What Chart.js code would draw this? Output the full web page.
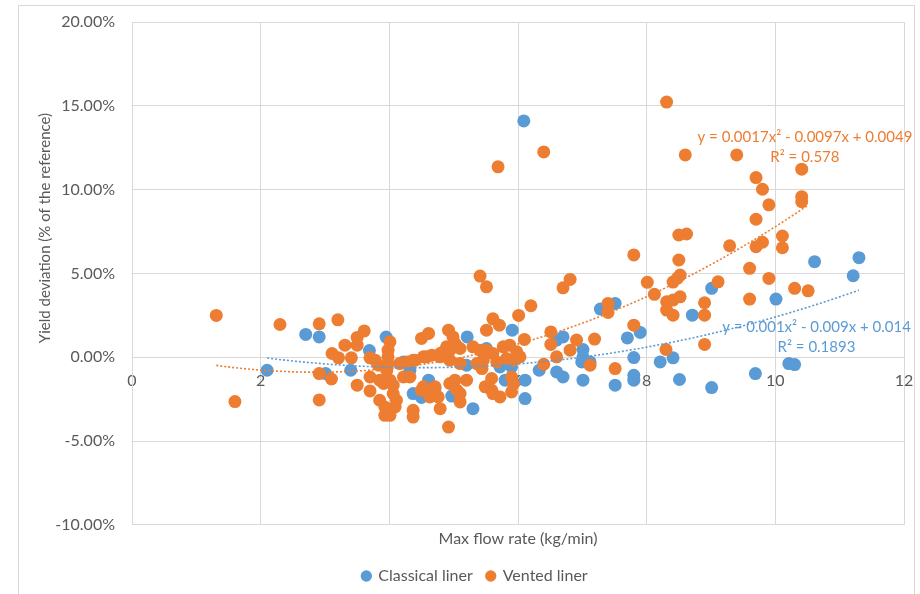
<!DOCTYPE html>
<html><head><meta charset="utf-8">
<script src="https://cdn.jsdelivr.net/npm/chart.js@4.4.1/dist/chart.umd.min.js"></script>
<style>
html,body{margin:0;padding:0;background:#fff;}
#wrap{position:relative;width:920px;height:594px;overflow:hidden;}
#frame{position:absolute;left:18px;top:5px;width:897px;height:620px;border:1px solid #d9d9d9;box-sizing:border-box;}
canvas{position:absolute;left:0;top:0;}
</style></head><body>
<div id="wrap"><div id="frame"></div><canvas id="c" width="920" height="594"></canvas></div>
<script>
// ---- data (y in % of the reference) ----
const seriesNames = ['Classical liner', 'Vented liner'];
const classicalX = [2.10,2.70,2.91,3.01,3.40,3.69,3.95,4.22,4.32,4.61,4.71,4.37,4.50,4.97,5.21,5.91,5.51,5.20,5.72,5.90,6.33,5.80,6.11,6.11,5.30,6.09,6.70,6.60,7.01,7.01,6.99,7.12,6.60,6.70,7.01,7.28,7.51,7.70,7.90,7.80,7.51,7.80,7.80,8.21,8.41,8.51,8.71,9.01,9.01,9.69,10.01,10.21,10.30,10.61,11.21,11.30];
const classicalY = [-0.78,1.36,1.21,-0.98,-0.78,0.40,1.20,-0.28,-0.78,-1.37,-1.87,-2.17,-2.40,-2.32,1.21,1.61,0.52,-0.48,-0.58,-0.58,-0.78,-1.37,-1.37,-2.47,-3.07,14.10,1.21,1.02,0.46,0.02,-0.28,-0.28,-0.88,-1.18,-1.37,2.87,3.21,1.15,1.48,-0.02,-1.67,-1.08,-1.37,-0.28,-0.04,-1.33,2.51,4.11,-1.81,-0.98,3.47,-0.38,-0.44,5.70,4.86,5.94];
const ventedX = [1.31,1.60,2.30,2.91,3.20,2.91,3.10,2.91,3.11,3.21,3.31,3.41,3.50,3.50,3.50,3.61,3.70,3.70,3.78,3.83,3.70,3.85,3.91,4.01,4.06,4.06,4.11,4.09,4.01,3.93,3.85,3.93,4.01,3.98,3.98,3.98,3.96,4.16,4.27,4.40,4.53,4.50,4.61,4.66,4.79,4.84,4.92,4.99,5.05,4.94,4.22,4.32,4.50,4.63,4.79,4.76,4.94,5.05,4.37,4.37,4.92,4.53,4.61,4.71,4.37,4.58,4.79,4.89,5.41,5.51,6.20,6.01,5.61,5.71,5.51,6.10,5.02,5.10,5.30,5.41,5.51,5.61,5.77,5.87,5.98,6.03,5.93,5.82,5.46,5.67,5.36,5.44,5.10,4.94,6.40,5.02,5.20,5.59,5.90,5.49,5.59,5.72,5.61,5.90,5.10,5.10,5.93,5.69,6.40,6.51,6.51,6.91,6.81,7.19,6.60,7.12,6.81,6.70,7.40,7.40,7.51,7.80,7.80,8.01,8.12,8.30,8.31,8.50,8.62,8.50,8.52,8.41,8.48,8.31,8.41,8.52,8.31,8.41,8.60,8.90,8.90,8.90,9.11,9.40,9.29,9.60,9.60,9.70,9.80,9.90,9.70,9.80,9.70,10.11,10.11,9.90,10.30,10.51,10.41,10.41,10.41];
const ventedY = [2.49,-2.65,1.95,1.99,2.23,-0.98,-1.30,-2.55,0.22,-0.04,0.72,-0.04,-1.67,0.72,1.18,1.57,-0.04,-2.01,-0.18,-0.48,-1.18,-1.37,-1.57,-1.37,-1.67,-2.17,-2.57,-2.97,-3.47,-3.47,-2.57,-2.97,0.92,0.42,0.02,-0.38,-0.78,-0.38,-0.28,-0.18,0.02,1.12,1.42,0.12,0.02,0.32,1.61,1.21,0.62,-0.18,-1.18,-1.18,-1.97,-2.37,-3.07,-2.37,-1.57,-1.97,-3.17,-3.57,-4.17,-1.77,-2.17,-1.77,-0.18,0.02,0.22,0.62,4.84,4.20,3.07,2.49,2.29,1.91,1.61,1.06,0.82,0.52,0.62,0.42,0.42,0.22,0.62,0.72,0.32,0.02,-0.18,-0.08,-0.18,-0.28,-0.38,-0.68,-0.38,0.42,-0.42,-1.37,-1.37,-1.27,-1.18,-1.77,-1.97,-2.37,-2.17,-2.07,-2.17,-2.67,-1.60,11.36,12.25,1.51,0.76,1.02,0.42,1.08,0.02,-0.48,4.64,4.14,3.21,2.67,-0.68,6.10,1.91,4.47,3.75,0.46,15.22,7.29,7.35,5.80,4.90,4.48,4.72,3.31,3.41,3.60,2.81,2.51,12.07,3.25,2.51,0.76,4.50,12.07,6.65,5.30,3.47,10.72,10.02,9.09,8.23,6.86,6.59,7.23,6.53,4.70,4.11,3.96,11.22,9.58,9.28];
// polynomial trendlines (as displayed on the chart): a*x^2 + b*x + c (fraction)
const classicalTrend = [0.001, -0.009, 0.014];
const ventedTrend = [0.0017, -0.0097, 0.0049];
const classicalTrendText = ['y = 0.001x\u00B2 - 0.009x + 0.014', 'R\u00B2 = 0.1893'];
const ventedTrendText = ['y = 0.0017x\u00B2 - 0.0097x + 0.0049', 'R\u00B2 = 0.578'];
const xTicks = [0, 2, 4, 6, 8, 10, 12];
const yTicks = [-10, -5, 0, 5, 10, 15, 20];
const xTitle = 'Max flow rate (kg/min)';
const yTitle = 'Yield deviation (% of the reference)';

// ---- build ----
const BLUE = '#5B9BD5', ORANGE = '#ED7D31', TXT = '#595959', GRID = '#D9D9D9', NONE = 'rgba(0,0,0,0)';
const toPts = (xs, ys) => xs.map((x, i) => ({x, y: ys[i]}));
function trendPts(coef, xs) {
  const lo = Math.min(...xs), hi = Math.max(...xs), n = 80, out = [];
  for (let i = 0; i <= n; i++) {
    const x = lo + (hi - lo) * i / n;
    out.push({x, y: (coef[0] * x * x + coef[1] * x + coef[2]) * 100});
  }
  return out;
}
Chart.defaults.font.family = 'Lato';
Chart.defaults.font.size = 16;
Chart.defaults.color = TXT;

const textPlugin = {
  id: 'extraText',
  afterLayout(chart) {
    if (chart.legend) { chart.legend.left += 28; }
  },
  afterDraw(chart) {
    const ctx = chart.ctx, xs = chart.scales.x, ys = chart.scales.y;
    ctx.save();
    ctx.textAlign = 'center';
    ctx.textBaseline = 'middle';
    ctx.fillStyle = TXT;
    ctx.font = '15px Lato';
    ctx.save();
    ctx.translate(45, 228);
    ctx.rotate(-Math.PI / 2);
    ctx.fillText(yTitle, 0, 0);
    ctx.restore();
    ctx.fillStyle = ORANGE;
    ctx.fillText(ventedTrendText[0], xs.getPixelForValue(10.46), ys.getPixelForValue(13.15));
    ctx.fillText(ventedTrendText[1], xs.getPixelForValue(10.46), ys.getPixelForValue(11.95));
    ctx.fillStyle = BLUE;
    ctx.fillText(classicalTrendText[0], xs.getPixelForValue(10.64), ys.getPixelForValue(1.79));
    ctx.fillText(classicalTrendText[1], xs.getPixelForValue(10.64), ys.getPixelForValue(0.60));
    ctx.restore();
  }
};

new Chart(document.getElementById('c'), {
  type: 'scatter',
  data: {
    datasets: [
      {label: seriesNames[0], data: toPts(classicalX, classicalY), backgroundColor: BLUE, borderColor: BLUE, borderWidth: 0, pointRadius: 6.5, order: 3},
      {label: seriesNames[1], data: toPts(ventedX, ventedY), backgroundColor: ORANGE, borderColor: ORANGE, borderWidth: 0, pointRadius: 6.5, order: 2},
      {label: 'trend1', data: trendPts(ventedTrend, ventedX), showLine: true, pointRadius: 0, borderColor: ORANGE, borderWidth: 1.6, borderDash: [2, 2], fill: false, order: 1},
      {label: 'trend0', data: trendPts(classicalTrend, classicalX), showLine: true, pointRadius: 0, borderColor: BLUE, borderWidth: 1.6, borderDash: [2, 2], fill: false, order: 0}
    ]
  },
  options: {
    responsive: false,
    animation: false,
    layout: {padding: {left: 18, right: 16, top: 22, bottom: 0}},
    scales: {
      x: {
        type: 'linear', position: {y: 0}, min: 0, max: 12,
        afterBuildTicks: s => { s.ticks = xTicks.map(v => ({value: v})); },
        ticks: {padding: 0, color: TXT},
        grid: {color: GRID, drawTicks: true, tickLength: 14, tickColor: NONE},
        border: {color: GRID}
      },
      x2: {
        type: 'linear', position: 'bottom', min: 0, max: 12, display: true,
        ticks: {display: false}, grid: {display: false, drawTicks: false}, border: {display: false},
        title: {display: true, text: xTitle, color: TXT, padding: {top: 4, bottom: 6}}
      },
      y: {
        type: 'linear', min: -10, max: 20,
        afterBuildTicks: s => { s.ticks = yTicks.map(v => ({value: v})); },
        afterFit: s => { s.width = 114; },
        ticks: {padding: 0, color: TXT, callback: v => v.toFixed(2) + '%'},
        grid: {color: GRID, drawTicks: true, tickLength: 17, tickColor: NONE},
        border: {color: GRID}
      }
    },
    plugins: {
      legend: {
        position: 'bottom',
        labels: {
          usePointStyle: true, pointStyle: 'circle', boxWidth: 8, boxHeight: 8, padding: 14, color: TXT,
          filter: item => item.datasetIndex < 2,
          sort: (a, b) => a.datasetIndex - b.datasetIndex
        }
      },
      tooltip: {enabled: false}
    }
  },
  plugins: [textPlugin]
});
</script>
</body></html>
